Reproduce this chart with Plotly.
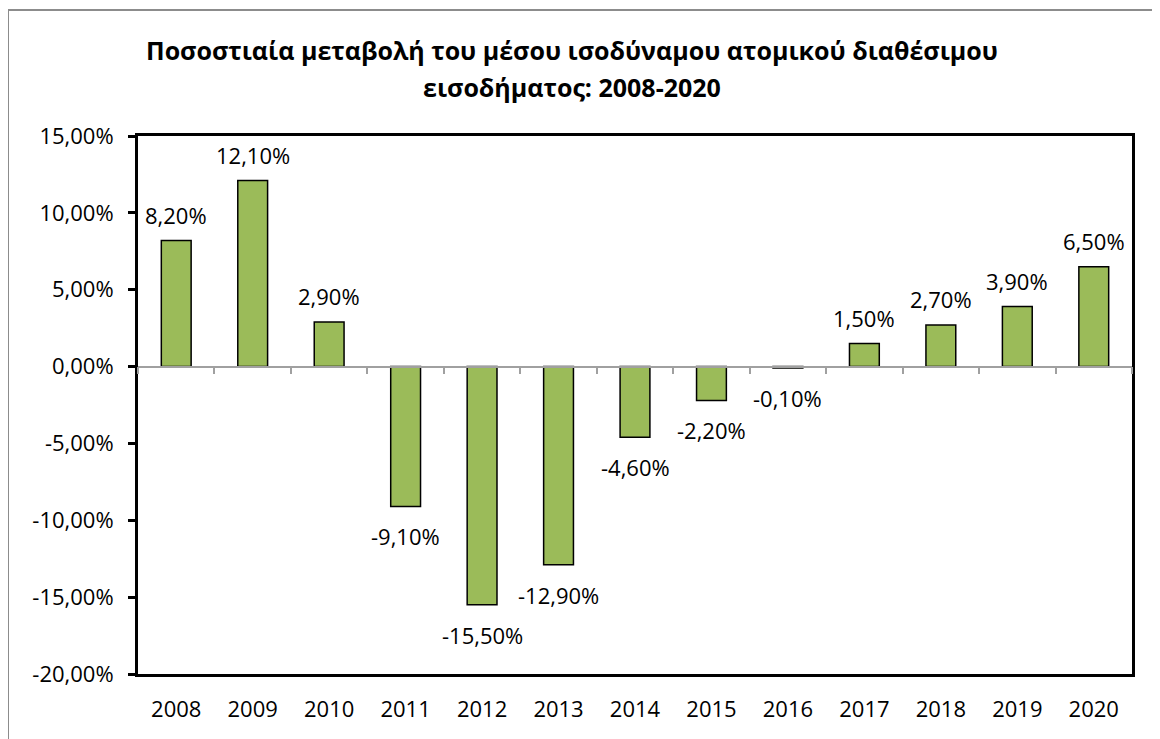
import plotly.graph_objects as go

years = ["2008", "2009", "2010", "2011", "2012", "2013", "2014",
         "2015", "2016", "2017", "2018", "2019", "2020"]
values = [8.2, 12.1, 2.9, -9.1, -15.5, -12.9, -4.6, -2.2, -0.1, 1.5, 2.7, 3.9, 6.5]
labels = ["8,20%", "12,10%", "2,90%", "-9,10%", "-15,50%", "-12,90%", "-4,60%",
          "-2,20%", "-0,10%", "1,50%", "2,70%", "3,90%", "6,50%"]
ytick_vals = [15, 10, 5, 0, -5, -10, -15, -20]
ytick_text = ["15,00%", "10,00%", "5,00%", "0,00%", "-5,00%", "-10,00%", "-15,00%", "-20,00%"]
title_lines = ["Ποσοστιαία μεταβολή του μέσου ισοδύναμου ατομικού διαθέσιμου",
               "εισοδήματος: 2008-2020"]

FONT = "Open Sans"
OFF = 8  # page body margin
W, H = 1160 - OFF, 739 - OFF
L, T = 138 - OFF, 136 - OFF
pw, ph = 994, 538
R, B = W - L - pw, H - T - ph

fig = go.Figure()
fig.add_trace(go.Bar(
    x=years, y=values, width=0.39,
    marker=dict(color="#9BBB59", line=dict(color="black", width=1.5)),
    hoverinfo="skip",
))
fig.add_trace(go.Scatter(x=years, y=[0] * len(years), xaxis="x2", mode="markers",
                         marker=dict(opacity=0), hoverinfo="skip", showlegend=False))

for i, (v, lab) in enumerate(zip(values, labels)):
    fig.add_annotation(x=i, y=v, xref="x", yref="y", text=lab, showarrow=False,
                       yanchor="middle", yshift=26 if v >= 0 else -30,
                       font=dict(family=FONT, size=22, color="black"))

for line, ypx in zip(title_lines, [50, 87]):
    fig.add_annotation(x=(572 - 138) / pw, y=(674 - ypx) / ph, xref="paper", yref="paper",
                       text="<b>" + line + "</b>", showarrow=False,
                       xanchor="center", yanchor="middle",
                       font=dict(family=FONT, size=25, color="black"))

ymin, ymax = -20, 15
fig.update_layout(
    width=W, height=H,
    margin=dict(l=L, r=R, t=T, b=B),
    paper_bgcolor="white", plot_bgcolor="white",
    showlegend=False,
    xaxis=dict(type="category", range=[-0.5, 12.5], showline=True, linecolor="black",
               linewidth=3, mirror=True, ticks="", showgrid=False,
               ticklabelstandoff=14,
               tickfont=dict(family=FONT, size=22, color="black")),
    xaxis2=dict(type="category", range=[-0.5, 12.5], overlaying="x", anchor="free",
                position=(0 - ymin) / (ymax - ymin), side="bottom",
                showline=True, linecolor="#A0A0A0", linewidth=1.5,
                ticks="outside", tickson="boundaries", ticklen=7, tickwidth=1.5,
                tickcolor="#A0A0A0", showticklabels=False, showgrid=False),
    yaxis=dict(range=[ymin, ymax], tickvals=ytick_vals, ticktext=ytick_text,
               showline=True, linecolor="black", linewidth=3, mirror=True,
               ticks="outside", ticklen=7, tickwidth=3, tickcolor="black",
               showgrid=False, zeroline=False, ticklabelstandoff=10,
               tickfont=dict(family=FONT, size=22, color="black")),
)

fig.add_shape(type="rect", xref="paper", yref="paper",
              x0=(8 - 138) / pw, x1=(1175 - 138) / pw,
              y0=(674 - 760) / ph, y1=(674 - 10) / ph,
              line=dict(color="#8C8C8C", width=2), fillcolor="rgba(0,0,0,0)", layer="below")

fig.write_html("out.html")
